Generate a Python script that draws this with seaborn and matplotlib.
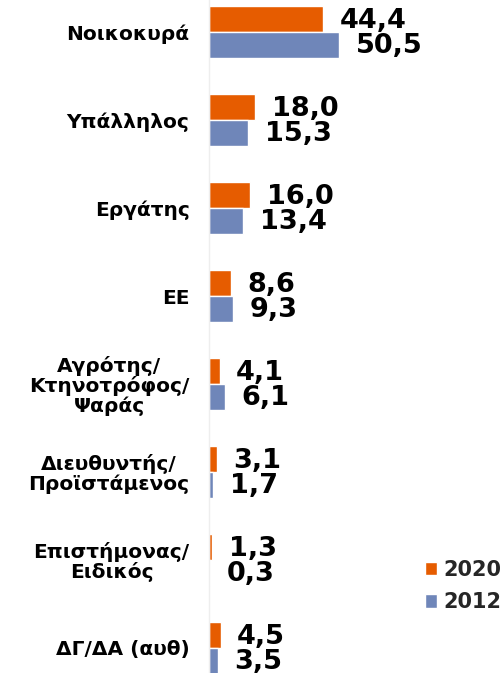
import matplotlib
matplotlib.use("Agg")
import matplotlib.pyplot as plt
import seaborn as sns
import pandas as pd

categories = ["Νοικοκυρά", "Υπάλληλος", "Εργάτης", "ΕΕ",
              "Αγρότης/\nΚτηνοτρόφος/\nΨαράς", "Διευθυντής/\nΠροϊστάμενος",
              "Επιστήμονας/\nΕιδικός", "ΔΓ/ΔΑ (αυθ)"]
values_2020 = [44.4, 18.0, 16.0, 8.6, 4.1, 3.1, 1.3, 4.5]
values_2012 = [50.5, 15.3, 13.4, 9.3, 6.1, 1.7, 0.3, 3.5]
series = ["2020", "2012"]
colors = ["#E65C00", "#6F86B9"]

df = pd.DataFrame({
    "cat": categories * 2,
    "val": values_2020 + values_2012,
    "year": ["2020"] * len(categories) + ["2012"] * len(categories),
})

sns.set_style("white")
plt.rcParams["font.family"] = ["DejaVu Sans"]

fig = plt.figure(figsize=(5.02, 6.73), dpi=100)
ax = fig.add_axes([209 / 502, 0, 1 - 209 / 502, 1])

sns.barplot(data=df, y="cat", x="val", hue="year", hue_order=series,
            palette=colors, orient="h", width=0.58, ax=ax, legend=True,
            saturation=1, errorbar=None)

ax.set_xlim(0, (502 - 209) / 2.574)
ax.set_ylim(7 + 25 / 88, -32 / 88)
ax.set_xlabel("")
ax.set_ylabel("")
ax.set_xticks([])

for cont in ax.containers:
    labels = [f"{b.get_width():.1f}".replace(".", ",") for b in cont]
    texts = ax.bar_label(cont, labels=labels, padding=12)
    for t in texts:
        t.set_fontsize(19.5)
        t.set_fontweight("heavy")
        t.set_color("black")
        t.xyann = (12, -1.2)

ax.tick_params(axis="y", length=0, pad=14)
for t in ax.get_yticklabels():
    t.set_fontweight("bold")
    t.set_fontsize(14.5)
    t.set_color("black")
    t.set_multialignment("center")
    t.set_linespacing(1.0)

for s in ["top", "right", "bottom"]:
    ax.spines[s].set_visible(False)
ax.spines["left"].set_color("#eeeeee")
ax.spines["left"].set_linewidth(1)

leg = ax.legend(loc="center left", bbox_to_anchor=(425 / 502, 1 - 586 / 673),
                bbox_transform=fig.transFigure, frameon=False, borderpad=0,
                borderaxespad=0,
                prop={"weight": "bold", "size": 15}, handlelength=0.6,
                handleheight=0.6, handletextpad=0.3, labelspacing=0.6)

fig.savefig("out.png", dpi=100)
